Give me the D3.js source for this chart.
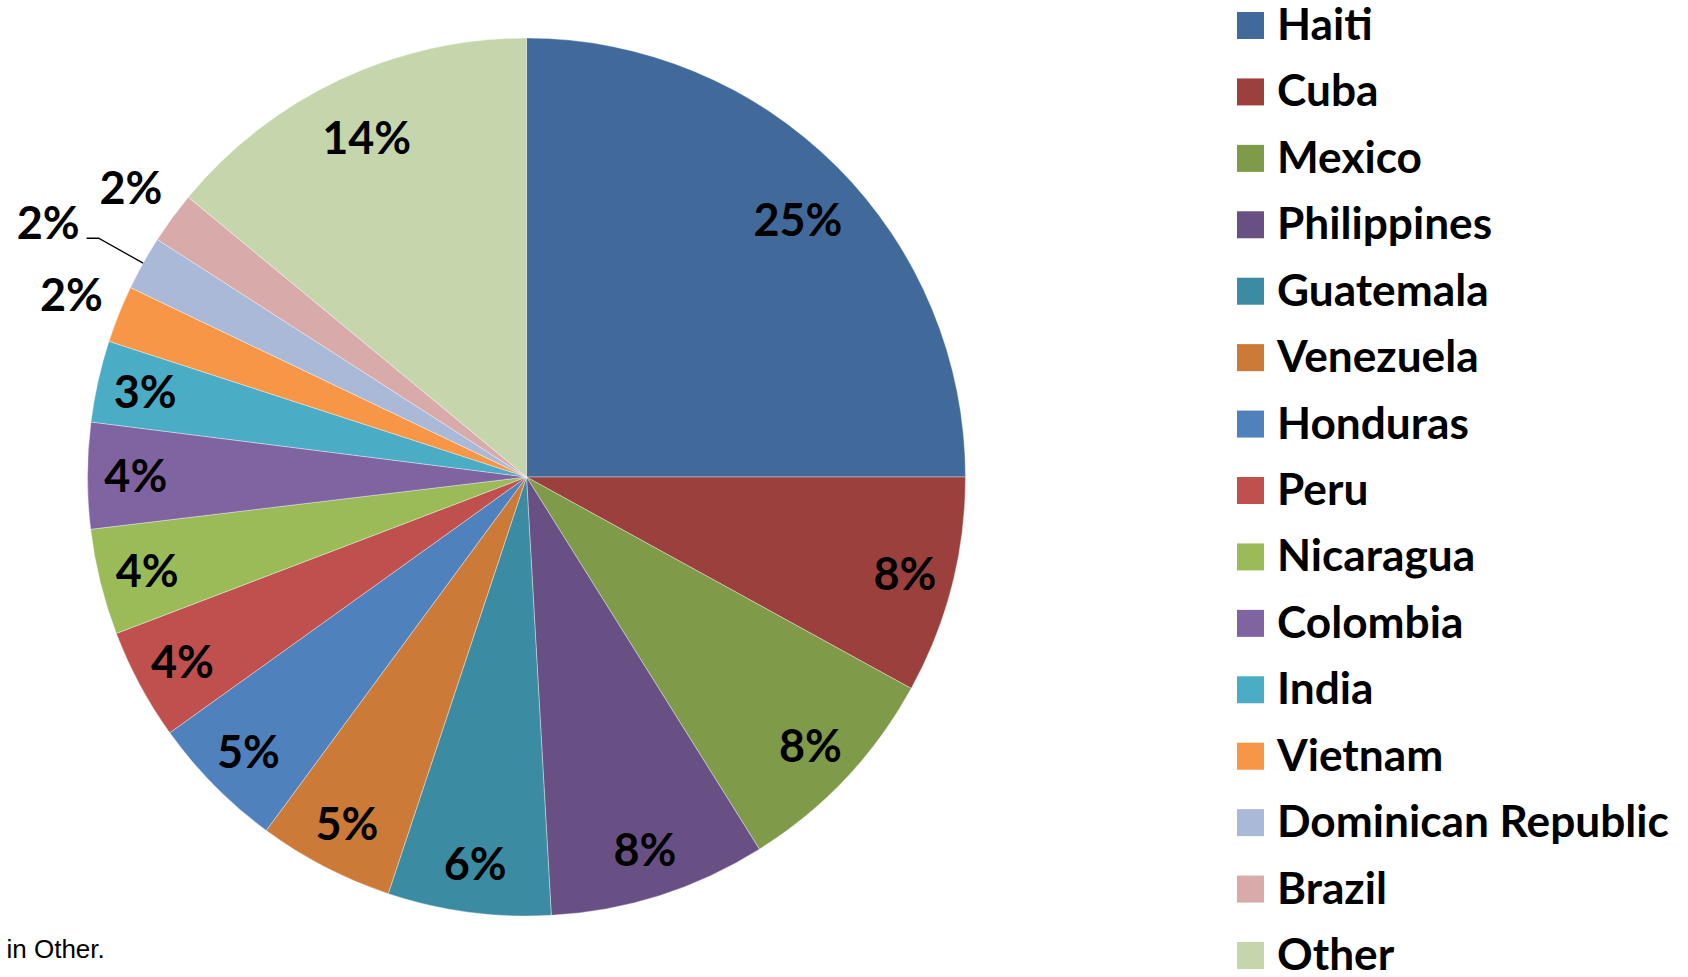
<!DOCTYPE html>
<html>
<head>
<meta charset="utf-8">
<script src="https://cdn.jsdelivr.net/npm/d3@7"></script>
<style>
  html, body { margin: 0; padding: 0; background: #fff; }
  svg { display: block; }
</style>
</head>
<body>
<svg id="chart" width="1688" height="977"></svg>
<script>
// ---- data ----
const categories = ["Haiti", "Cuba", "Mexico", "Philippines", "Guatemala", "Venezuela", "Honduras", "Peru", "Nicaragua", "Colombia", "India", "Vietnam", "Dominican Republic", "Brazil", "Other"];
const values = [25.0, 8.0, 8.1, 8.0, 6.0, 5.0, 5.0, 4.1, 3.9, 3.9, 3.0, 2.1, 2.0, 1.9, 14.0];
const colors = ["#416A9B", "#9C403E", "#7F9A48", "#695084", "#3B8CA2", "#CB7A37", "#4F81BD", "#C0504D", "#9BBB59", "#8064A2", "#4BACC6", "#F79646", "#AAB9D7", "#D9AAAA", "#C5D6AC"];
const footnote = "in Other.";

// ---- layout ----
const W = 1688, H = 977;
const cx = 526.5, cy = 477, R = 439;
const svg = d3.select("#chart");
const fontFam = "Lato, 'Open Sans', sans-serif";

const total = d3.sum(values);
const pct = d3.format(".0%");
const color = d3.scaleOrdinal().domain(categories).range(colors);

const data = categories.map((c, i) => ({ name: c, value: values[i] }));
const pie = d3.pie().sort(null).value(d => d.value).startAngle(0).endAngle(2 * Math.PI);
const arcs = pie(data);
const arc = d3.arc().innerRadius(0).outerRadius(R);

const g = svg.append("g").attr("transform", `translate(${cx},${cy})`);
g.selectAll("path.slice")
  .data(arcs)
  .enter().append("path")
  .attr("class", "slice")
  .attr("d", arc)
  .attr("fill", d => color(d.data.name))
  .attr("stroke", "#ffffff")
  .attr("stroke-width", 0.6)
  .attr("stroke-opacity", 0.6);

// fit font sizes to the reference's text widths
function measure(text, size, weight) {
  const t = svg.append("text").attr("font-family", fontFam).attr("font-weight", weight)
    .attr("font-size", size).text(text);
  const w = t.node().getComputedTextLength();
  t.remove();
  return w;
}
const labelFs = 100 * 89 / measure("25%", 100, 700);
const legendFs = 100 * 392 / measure("Dominican Republic", 100, 700);

function polar(r, a) { return [Math.sin(a) * r, -Math.cos(a) * r]; }

const smalls = arcs.filter(d => d.data.value / total < 0.025);
arcs.forEach((d, i) => {
  const mid = (d.startAngle + d.endAngle) / 2;
  const share = d.data.value / total;
  const small = share < 0.025;
  let x, y, anchor = "middle";
  if (!small) {
    const r = share > 0.1 ? 0.855 * R : 0.89 * R;
    [x, y] = polar(r, mid);
    if (share > 0.2) { x += 6; y += 8; }
  } else {
    const idx = smalls.indexOf(d);
    if (idx === 1) {
      // pushed-out label with leader line
      const p0 = polar(R, mid);
      const p1 = polar(R + 51, mid);
      const p2 = [p1[0] - 12, p1[1]];
      g.append("polyline")
        .attr("points", [p0, p1, p2].map(p => p.join(",")).join(" "))
        .attr("fill", "none").attr("stroke", "#000").attr("stroke-width", 1.3);
      x = p2[0] - 7; y = p2[1] - 0.36 * labelFs * 0.95; anchor = "end";
    } else {
      [x, y] = polar(R + 51, mid);
    }
  }
  g.append("text")
    .attr("x", x).attr("y", y + 0.36 * labelFs)
    .attr("text-anchor", anchor)
    .attr("font-family", fontFam).attr("font-weight", 700)
    .attr("font-size", labelFs)
    .attr("fill", "#000")
    .text(pct(share));
});

// ---- legend ----
const legY = d3.scalePoint().domain(categories).range([25.5, 955.5]);
const leg = svg.append("g");
const items = leg.selectAll("g").data(categories).enter().append("g")
  .attr("transform", d => `translate(0,${legY(d)})`);
items.append("rect")
  .attr("x", 1237).attr("y", -13.5).attr("width", 27).attr("height", 27)
  .attr("fill", d => color(d));
items.append("text")
  .attr("x", 1277).attr("y", 14.5)
  .attr("font-family", fontFam).attr("font-weight", 700)
  .attr("font-size", legendFs).attr("fill", "#000")
  .text(d => d);

// ---- footnote ----
svg.append("text")
  .attr("x", 6.5).attr("y", 958)
  .attr("font-family", "'Liberation Sans', Arial, sans-serif")
  .attr("font-size", 26).attr("fill", "#000")
  .text(footnote);
</script>
</body>
</html>
